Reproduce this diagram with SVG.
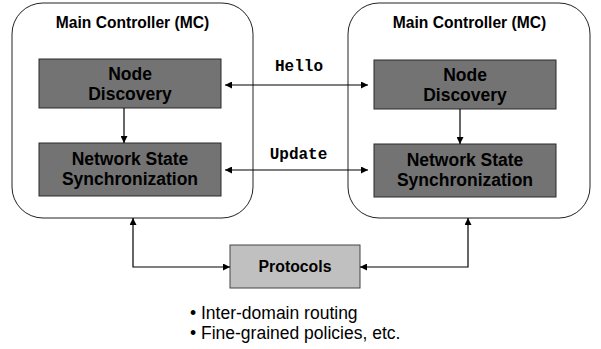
<svg xmlns="http://www.w3.org/2000/svg" width="601" height="349" viewBox="0 0 601 349">
<style>
.mc{fill:#fff;stroke:#222;stroke-width:1}
.box{fill:#737373;stroke:#2a2a2a;stroke-width:1}
.proto{fill:#c0c0c0;stroke:#444;stroke-width:1}
.t{font-family:"Liberation Sans",Arial,sans-serif;font-weight:bold;fill:#000;text-anchor:middle}
.title{font-size:15.6px}
.node{font-size:17.5px}
.mono{font-family:"Liberation Mono","Courier New",monospace;font-weight:bold;font-size:16px;text-anchor:middle;fill:#000}
.bul{font-family:"Liberation Sans",Arial,sans-serif;font-size:17.5px;fill:#000}
.c{fill:none;stroke:#000;stroke-width:1.2}
</style>
<defs>
<marker id="ah" viewBox="0 0 10 10" refX="10" refY="5" markerWidth="8" markerHeight="7" markerUnits="userSpaceOnUse" orient="auto-start-reverse">
<path d="M0,0 L10,5 L0,10 z" fill="#000"/>
</marker>
</defs>
<g id="mc-left">
<rect class="mc" x="12" y="3" width="241" height="215" rx="31" ry="31"/>
<text class="t title" x="132.5" y="28">Main Controller (MC)</text>
</g>
<g id="mc-right">
<rect class="mc" x="348" y="3" width="242" height="215" rx="31" ry="31"/>
<text class="t title" x="469.5" y="28">Main Controller (MC)</text>
</g>
<g id="nd-left">
<rect class="box" x="39" y="59" width="182" height="49"/>
<text class="t node" x="130" y="80">Node</text>
<text class="t node" x="130" y="100">Discovery</text>
</g>
<g id="nss-left">
<rect class="box" x="39" y="143" width="182" height="53"/>
<text class="t node" x="130" y="165">Network State</text>
<text class="t node" x="130" y="185">Synchronization</text>
</g>
<g id="nd-right">
<rect class="box" x="374" y="60" width="182" height="49"/>
<text class="t node" x="465" y="81">Node</text>
<text class="t node" x="465" y="101">Discovery</text>
</g>
<g id="nss-right">
<rect class="box" x="374" y="144" width="182" height="53"/>
<text class="t node" x="465" y="166">Network State</text>
<text class="t node" x="465" y="186">Synchronization</text>
</g>
<g id="protocols">
<rect class="proto" x="230" y="245" width="130" height="43"/>
<text class="t" style="font-size:15.8px" x="295" y="272">Protocols</text>
</g>
<g id="connectors">
<line class="c" x1="225" y1="85" x2="368" y2="85" marker-start="url(#ah)" marker-end="url(#ah)"/>
<text class="mono" x="299" y="71">Hello</text>
<line class="c" x1="225" y1="170" x2="368" y2="170" marker-start="url(#ah)" marker-end="url(#ah)"/>
<text class="mono" x="298.5" y="159">Update</text>
<line class="c" x1="124" y1="108" x2="124" y2="143" marker-end="url(#ah)"/>
<line class="c" x1="460" y1="109" x2="460" y2="144" marker-end="url(#ah)"/>
<polyline class="c" points="133,218 133,267 230,267" marker-start="url(#ah)" marker-end="url(#ah)"/>
<polyline class="c" points="468,218 468,267 360,267" marker-start="url(#ah)" marker-end="url(#ah)"/>
</g>
<g id="notes">
<text class="bul" x="190" y="319">• Inter-domain routing</text>
<text class="bul" x="190" y="339">• Fine-grained policies, etc.</text>
</g>
</svg>
